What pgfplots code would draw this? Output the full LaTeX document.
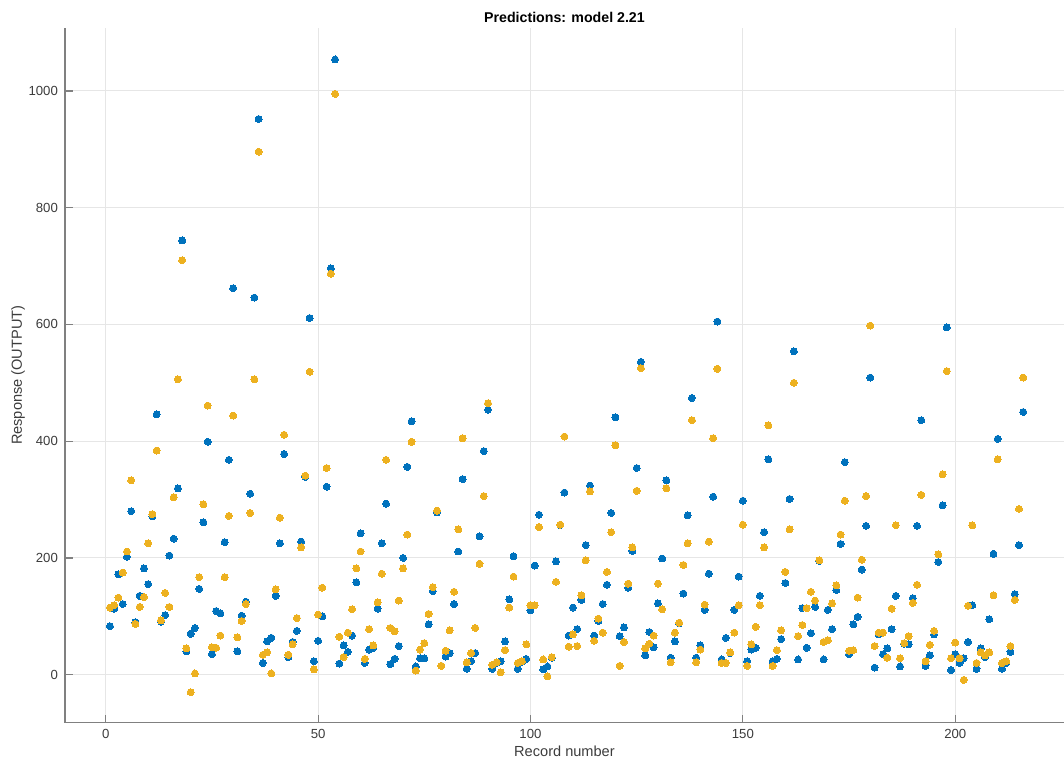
\documentclass[border=0pt]{standalone}
\usepackage{fontspec}
\setmainfont{Liberation Sans}
\usepackage{pgfplots}
\usepackage{pgfplotstable}
\pgfplotsset{compat=1.18}
\definecolor{mblue}{rgb}{0,0.447,0.741}
\definecolor{myellow}{rgb}{0.929,0.694,0.125}
\definecolor{axgray}{RGB}{128,128,128}
\definecolor{txtgray}{RGB}{60,60,60}
\definecolor{gridgray}{RGB}{230,230,230}
\pgfplotstableread{
x b p
1 83 115
2 113 119
3 172 132
4 121 175
5 202 211
6 280 333
7 90 87
8 135 116
9 182 133
10 155 225
11 271 275
12 446 384
13 91 93
14 102 140
15 204 116
16 233 304
17 319 506
18 744 710
19 40 45
20 70 -30
21 80 2
22 147 167
23 261 292
24 399 461
25 35 47
26 109 46
27 105 67
28 227 167
29 368 272
30 662 444
31 40 64
32 101 92
33 125 121
34 310 277
35 646 506
36 952 896
37 20 34
38 57 38
39 63 2
40 135 146
41 225 269
42 378 411
43 30 34
44 56 52
45 75 97
46 228 218
47 339 341
48 611 519
49 23 9
50 58 103
51 100 149
52 322 354
53 696 687
54 1054 995
55 19 65
56 50 30
57 39 72
58 67 112
59 158 182
60 242 211
61 20 27
62 43 78
63 46 50
64 113 124
65 225 173
66 293 368
67 18 80
68 27 74
69 49 127
70 200 182
71 356 240
72 434 399
73 14 7
74 28 43
75 28 54
76 86 104
77 143 150
78 278 281
79 15 15
80 31 41
81 37 76
82 121 142
83 211 249
84 335 405
85 10 21
86 23 37
87 37 80
88 237 190
89 383 306
90 454 465
91 10 17
92 20 21
93 23 4
94 57 42
95 129 115
96 203 168
97 10 20
98 22 23
99 27 52
100 110 119
101 187 119
102 274 253
103 9 26
104 14 -3
105 29 30
106 194 159
107 256 257
108 312 408
109 67 48
110 115 69
111 78 49
112 128 136
113 222 196
114 324 314
115 67 58
116 92 96
117 121 72
118 154 176
119 277 244
120 441 393
121 66 15
122 81 56
123 149 156
124 212 218
125 354 315
126 536 525
127 33 45
128 73 53
129 47 67
130 122 156
131 199 112
132 333 319
133 29 21
134 57 72
135 88 89
136 139 188
137 273 225
138 474 436
139 29 21
140 50 43
141 111 120
142 173 228
143 305 405
144 605 524
145 26 20
146 63 20
147 37 38
148 111 72
149 168 119
150 298 257
151 23 15
152 43 52
153 46 82
154 135 119
155 244 218
156 369 427
157 23 15
158 27 42
159 61 76
160 157 176
161 301 249
162 554 500
163 26 66
164 114 85
165 46 114
166 71 142
167 116 127
168 195 196
169 26 56
170 111 59
171 78 122
172 145 153
173 224 240
174 364 298
175 35 41
176 86 42
177 99 132
178 180 197
179 255 306
180 509 598
181 12 49
182 69 72
183 35 72
184 45 29
185 78 113
186 135 256
187 14 28
188 53 54
189 52 66
190 131 123
191 255 154
192 436 308
193 15 23
194 33 51
195 69 75
196 193 206
197 290 343
198 595 520
199 8 28
200 35 55
201 20 28
202 28 -9
203 56 118
204 119 256
205 10 20
206 45 38
207 30 33
208 95 38
209 207 136
210 404 369
211 10 20
212 20 23
213 39 49
214 138 128
215 222 284
216 450 509
}\data
\begin{document}
\begin{tikzpicture}
\begin{axis}[name=ax, at={(0,0)}, anchor=south west,
  scale only axis, width=500pt, height=347.6pt,
  xmin=-9.6, xmax=225.6, ymin=-82, ymax=1108,
  axis lines*=left,
  axis line style={axgray, line width=0.6pt},
  tick align=inside, major tick length=4pt,
  tick style={axgray, line width=0.6pt},
  xtick={0,50,...,200}, ytick={0,200,...,1000},
  grid=major, grid style={gridgray, line width=0.5pt},
  tick label style={font=\fontsize{6.6}{8}\selectfont, text=txtgray},
  /pgf/number format/assume math mode=true,
  /pgf/number format/1000 sep={},
  xlabel={Record number}, ylabel={Response (OUTPUT)},
  label style={font=\fontsize{7.3}{9}\selectfont, text=txtgray},
  xlabel style={at={(axis description cs:0.5,-0.0417)}, anchor=center},
  ylabel style={at={(axis description cs:-0.047,0.5)}, anchor=center},
  title={Predictions: model 2.21},
  title style={at={(axis description cs:0.5,1)}, anchor=center, yshift=-0.5pt, font=\bfseries\fontsize{7.1}{9}\selectfont, text=black},
]
\addplot[only marks, mark=*, mark size=1.75pt, mark options={draw=mblue, fill=mblue, line width=0pt}] table[x=x, y=b] {\data};
\addplot[only marks, mark=*, mark size=1.75pt, mark options={draw=myellow, fill=myellow, line width=0pt}] table[x=x, y=p] {\data};
\end{axis}
\pgfresetboundingbox
\path ([xshift=-32.5pt,yshift=-19.8pt]ax.south west) rectangle ([yshift=14pt]ax.north east);
\end{tikzpicture}
\end{document}
